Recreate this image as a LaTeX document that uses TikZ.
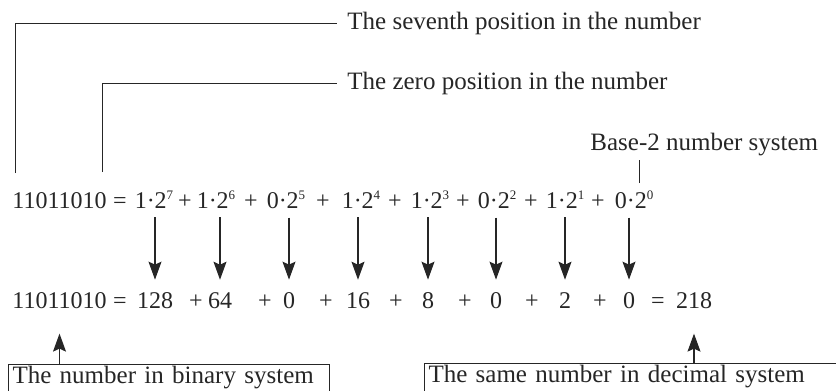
\documentclass[tikz,border=0pt]{standalone}
\usepackage{fontspec}
\setmainfont{Liberation Serif}
\usepackage{tikz}
\usetikzlibrary{arrows.meta, positioning}

\colorlet{ink}{black!85}
\newcommand{\pw}[1]{\raisebox{0.8ex}{\fontsize{6.5}{7}\selectfont #1}}

\begin{document}
\begin{tikzpicture}[x=0.5pt, y=-0.5pt, >=Stealth,
    eq/.style={inner sep=0pt, anchor=base, text=ink, font=\fontsize{12}{14}\selectfont},
    lbl/.style={inner xsep=5pt, inner ysep=0pt, anchor=base west, text=ink, font=\fontsize{12.5}{15}\selectfont},
    lead/.style={draw=ink, line width=0.5pt},
    arr/.style={-{Stealth[length=9pt, width=6.5pt, inset=1.5pt]}, draw=ink, line width=0.6pt},
    drop/.style={arr, shorten <=4.5pt, shorten >=6pt},
    infobox/.style={draw=ink, line width=0.5pt, anchor=north west, inner xsep=2pt, inner ysep=1pt,
                    text depth=10pt, align=left, text=ink, font=\fontsize{12.5}{15}\selectfont}]

    % Frame
    \useasboundingbox (0,0) rectangle (836,391);
    \clip (0,0) rectangle (836,391);

    % Binary expansion
    \node[eq, anchor=base west] (bintop) at (12,208) {11011010};
    \node[eq] (eqtop) at (120,208) {=};
    \node[eq] (t7) at (154,208) {1·2\pw{7}};
    \node[eq] (p7) at (185,208) {+};
    \node[eq] (t6) at (216,208) {1·2\pw{6}};
    \node[eq] (p6) at (251,208) {+};
    \node[eq] (t5) at (286,208) {0·2\pw{5}};
    \node[eq] (p5) at (323,208) {+};
    \node[eq] (t4) at (361,208) {1·2\pw{4}};
    \node[eq] (p4) at (395,208) {+};
    \node[eq] (t3) at (430,208) {1·2\pw{3}};
    \node[eq] (p3) at (463,208) {+};
    \node[eq] (t2) at (497,208) {0·2\pw{2}};
    \node[eq] (p2) at (531,208) {+};
    \node[eq] (t1) at (565,208) {1·2\pw{1}};
    \node[eq] (p1) at (598,208) {+};
    \node[eq] (t0) at (634,208) {0·2\pw{0}};

    % Decimal values
    \node[eq, anchor=base west] (binbot) at (12,308) {11011010};
    \node[eq] (eqbot) at (120,308) {=};
    \node[eq] (v7) at (155,308) {128};
    \node[eq] (q7) at (196,308) {+};
    \node[eq] (v6) at (220,308) {64};
    \node[eq] (q6) at (265,308) {+};
    \node[eq] (v5) at (289,308) {0};
    \node[eq] (q5) at (326,308) {+};
    \node[eq] (v4) at (358,308) {16};
    \node[eq] (q4) at (396,308) {+};
    \node[eq] (v3) at (428,308) {8};
    \node[eq] (q3) at (465,308) {+};
    \node[eq] (v2) at (496,308) {0};
    \node[eq] (q2) at (532,308) {+};
    \node[eq] (v1) at (565,308) {2};
    \node[eq] (q1) at (600,308) {+};
    \node[eq] (v0) at (629,308) {0};
    \node[eq] (eqsum) at (658,308) {=};
    \node[eq] (dec) at (694,308) {218};

    % Terms to values
    \draw[drop] (v7 |- t7.south) -- (v7.north);
    \draw[drop] (v6 |- t6.south) -- (v6.north);
    \draw[drop] (v5 |- t5.south) -- (v5.north);
    \draw[drop] (v4 |- t4.south) -- (v4.north);
    \draw[drop] (v3 |- t3.south) -- (v3.north);
    \draw[drop] (v2 |- t2.south) -- (v2.north);
    \draw[drop] (v1 |- t1.south) -- (v1.north);
    \draw[drop] (v0 |- t0.south) -- (v0.north);

    % Position labels
    \node[lbl] (seventh) at (337,30) {The seventh position in the number};
    \node[lbl] (zeroth) at (337,90) {The zero position in the number};
    \coordinate (c7) at (15,173);
    \coordinate (c0) at (102,172);
    \draw[lead] (c7) |- (seventh.west);
    \draw[lead] (c0) |- (zeroth.west);

    % Base label
    \node[lbl, inner xsep=0pt] (base) at (590,150) {Base-2 number system};
    \coordinate (cb) at (639,183);
    \draw[lead, shorten >=2.3pt] (cb) -- (cb |- base.south);

    % Boxes
    \node[infobox, text width=156.5pt] (binbox) at (8,364) {The number in binary system};
    \node[infobox, text width=210pt] (decbox) at (424,363) {The same number in decimal system};
    \draw[arr, shorten >=12.5pt] (binbox.north -| binbot) -- (binbot.south);
    \draw[arr, shorten >=12.5pt] (decbox.north -| dec) -- (dec.south);

\end{tikzpicture}
\end{document}
